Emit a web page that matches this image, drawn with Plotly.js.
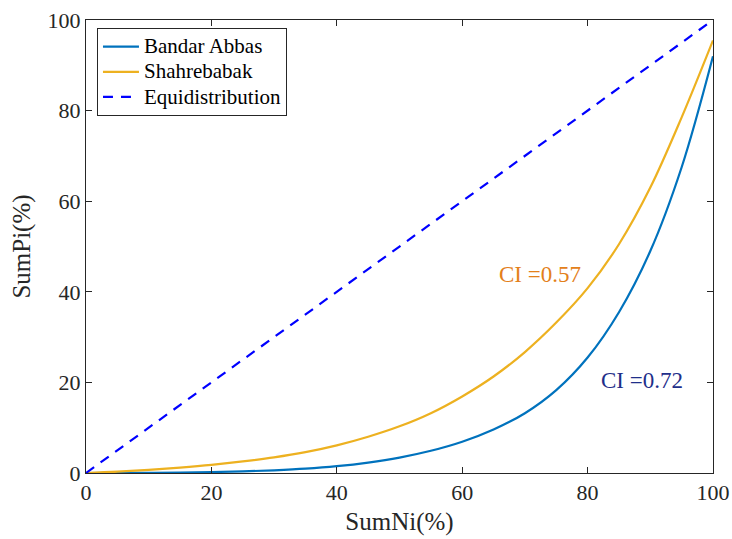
<!DOCTYPE html>
<html>
<head>
<meta charset="utf-8">
<script src="https://cdn.plot.ly/plotly-3.0.1.min.js"></script>
<style>html,body{margin:0;padding:0;background:#fff;}#chart{width:732px;height:539px;}</style>
</head>
<body>
<div id="chart"></div>
<script>
// Cumulative population share (%)
const sumNi = [0, 5, 10, 15, 20, 25, 30, 35, 40, 45, 50, 55, 60, 65, 70, 75, 80, 85, 90, 95, 100];
// Concentration curves (cumulative share %)
const bandarAbbas = [0, 0.02, 0.05, 0.1, 0.2, 0.35, 0.6, 0.95, 1.5, 2.3, 3.4, 4.9, 6.9, 9.6, 13.2, 18.3, 25.5, 35.5, 49, 67.5, 92];
const shahrebabak = [0, 0.3, 0.7, 1.2, 1.8, 2.55, 3.45, 4.6, 6.1, 8.0, 10.3, 13.2, 16.9, 21.3, 26.7, 33.2, 40.8, 50.5, 63, 78.5, 95.5];
const equiX = [0, 100];
const equiY = [0, 100];
const seriesNames = ['Bandar Abbas', 'Shahrebabak', 'Equidistribution'];
const ciLabels = ['CI =0.57', 'CI =0.72'];
const ciPos = [[72.4, 43.9], [88.7, 20.5]];
const ticks = [0, 20, 40, 60, 80, 100];

const FONT = '"Liberation Serif", serif';
const legendName = n => '<span style="font-size:21px">' + n + '</span>';
const traces = [
  {x: sumNi, y: bandarAbbas, name: legendName(seriesNames[0]), mode: 'lines',
   line: {color: '#0072BD', width: 2.2, shape: 'spline', smoothing: 1}},
  {x: sumNi, y: shahrebabak, name: legendName(seriesNames[1]), mode: 'lines',
   line: {color: '#EDB120', width: 2.2, shape: 'spline', smoothing: 1}},
  {x: equiX, y: equiY, name: legendName(seriesNames[2]), mode: 'lines',
   line: {color: '#0000FF', width: 2.2, dash: '10px,8px'}}
];
const axisCommon = {
  range: [0, 100], tickvals: ticks, ticktext: ticks.map(String),
  ticks: 'inside', ticklen: 6, tickwidth: 1, tickcolor: '#262626',
  showline: true, linecolor: '#262626', linewidth: 1, mirror: 'ticks',
  showgrid: false, zeroline: false,
  tickfont: {family: FONT, size: 22, color: '#262626'}
};
const layout = {
  width: 732, height: 539,
  margin: {l: 86, r: 19, t: 20, b: 66},
  paper_bgcolor: '#fff', plot_bgcolor: '#fff',
  font: {family: FONT, color: '#262626'},
  xaxis: Object.assign({}, axisCommon, {
    title: {text: 'SumNi(%)', font: {family: FONT, size: 25, color: '#262626'}, standoff: 8}
  }),
  yaxis: Object.assign({}, axisCommon, {
    title: {text: 'SumPi(%)', font: {family: FONT, size: 25, color: '#262626'}, standoff: 9}
  }),
  showlegend: true,
  legend: {
    x: 0.0175, y: 0.982, xanchor: 'left', yanchor: 'top',
    bgcolor: '#fff', bordercolor: '#262626', borderwidth: 1,
    font: {family: FONT, size: 17, color: '#000'},
    itemwidth: 36, tracegroupgap: 0
  },
  annotations: [
    {x: ciPos[0][0], y: ciPos[0][1], text: ciLabels[0], showarrow: false,
     font: {family: FONT, size: 23, color: '#E3801A'}},
    {x: ciPos[1][0], y: ciPos[1][1], text: ciLabels[1], showarrow: false,
     font: {family: FONT, size: 23, color: '#1F2F8A'}}
  ]
};
Plotly.newPlot('chart', traces, layout, {displayModeBar: false, staticPlot: true});
</script>
</body>
</html>
